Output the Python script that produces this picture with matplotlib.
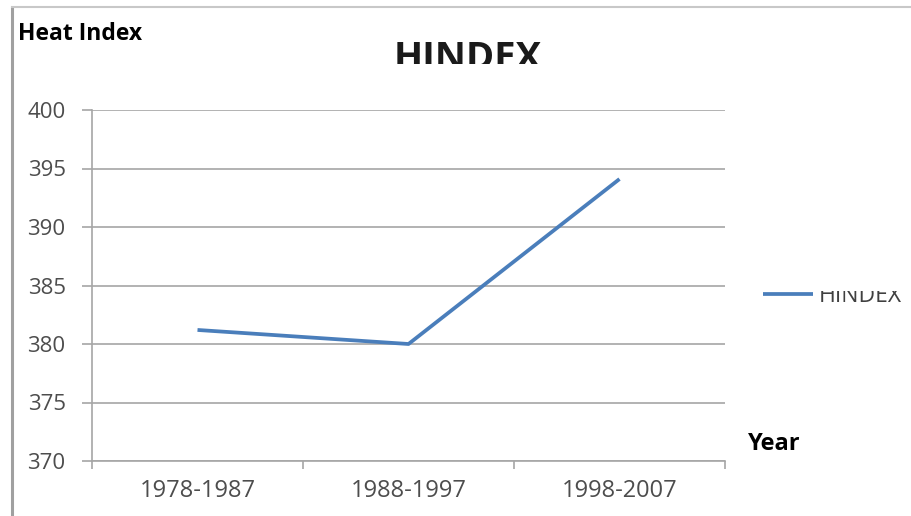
import matplotlib.pyplot as plt
from matplotlib.lines import Line2D
from matplotlib.transforms import Bbox, TransformedBbox

plt.rcParams['font.family'] = ['Open Sans', 'DejaVu Sans']

periods = ['1978-1987', '1988-1997', '1998-2007']
hindex = [381.2, 380.0, 394.1]
y_ticks = [370, 375, 380, 385, 390, 395, 400]

W, H = 911, 516
fig = plt.figure(figsize=(W / 100, H / 100), dpi=100)
ax = fig.add_axes([92 / W, 1 - 461 / H, (725 - 92) / W, (461 - 110) / H])

grid_c = '#a6a6a6'
text_c = '#4d4d4d'
blue = '#4a7ebb'

x = list(range(len(periods)))
line, = ax.plot(x, hindex, color=blue, lw=2.7, label='HINDEX', solid_capstyle='butt')

ax.set_xlim(-0.5, len(periods) - 0.5)
ax.set_ylim(y_ticks[0], y_ticks[-1])
ax.set_yticks(y_ticks)
ax.yaxis.grid(True, color=grid_c, lw=1.2)
ax.set_axisbelow(True)

# category boundaries as major ticks, labels on minor ticks at the centres
ax.set_xticks([i - 0.5 for i in range(len(periods) + 1)])
ax.set_xticklabels([])
ax.set_xticks(x, minor=True)
ax.set_xticklabels(periods, minor=True)
ax.tick_params(axis='x', which='major', length=6, color=grid_c, width=1.2)
ax.tick_params(axis='x', which='minor', length=0, pad=13, labelsize=17, labelcolor=text_c)
ax.tick_params(axis='y', length=7, color=grid_c, width=1.2, pad=12,
               labelsize=16, labelcolor=text_c)

for s in ['top', 'right']:
    ax.spines[s].set_visible(False)
for s in ['left', 'bottom']:
    ax.spines[s].set_color(grid_c)
    ax.spines[s].set_linewidth(1.2)

# outer frame of the screenshot
fig.add_artist(Line2D([12 / W, 12 / W], [0, 1 - 8 / H], color='#a0a0a0', lw=2.2))
fig.add_artist(Line2D([12 / W, 1], [1 - 7 / H, 1 - 7 / H], color='#c8c8c8', lw=1.5))

fig.text(18 / W, 1 - 40 / H, 'Heat Index', fontsize=16.5, fontweight='bold',
         color='black', va='baseline', ha='left')
fig.text(748 / W, 1 - 450 / H, 'Year', fontsize=17, fontweight='bold',
         color='black', va='baseline', ha='left')

# title, cut off at the bottom as in the screenshot
title = fig.text(468 / W, 1 - 69 / H, 'HINDEX', fontsize=27.5, fontweight='bold',
                 color='#1a1a1a', va='baseline', ha='center')
title.set_clip_box(TransformedBbox(Bbox([[0, 1 - 64 / H], [1, 1]]), fig.transFigure))
title.set_clip_on(True)

# legend, its text cut off at the top
leg = ax.legend(handles=[line], loc='center left', frameon=False,
                bbox_to_anchor=(763 / W, 1 - 296 / H), bbox_transform=fig.transFigure,
                fontsize=16.5, handlelength=2.2, handletextpad=0.25,
                borderpad=0, borderaxespad=0)
for t in leg.get_texts():
    t.set_color('#404040')
    t.set_clip_box(TransformedBbox(Bbox([[0, 0], [1, 1 - 291 / H]]), fig.transFigure))
    t.set_clip_on(True)

fig.savefig('out.png', dpi=100)
